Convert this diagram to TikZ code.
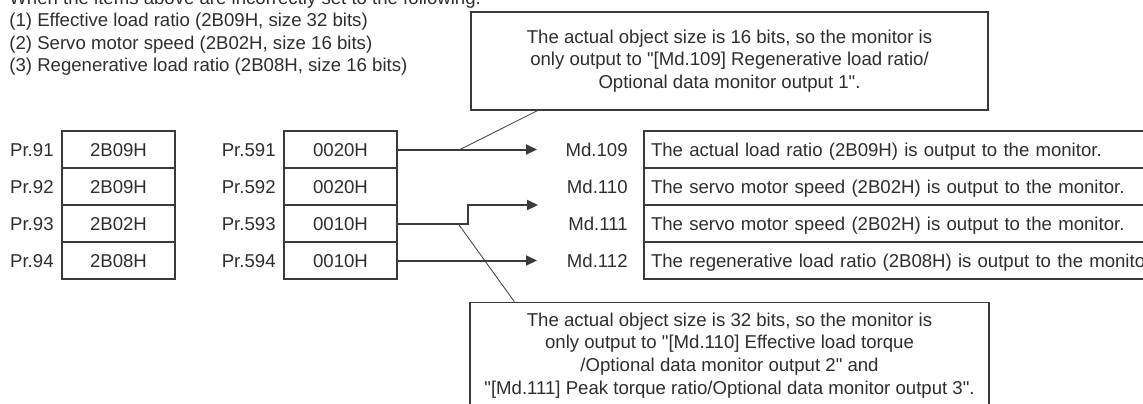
\documentclass[tikz,border=0pt]{standalone}
\usepackage{fontspec}
\setmainfont{Liberation Sans}[Ligatures=TeXOff]
\usepackage{tikz}
\usetikzlibrary{arrows.meta,positioning}
\definecolor{inkgray}{HTML}{2E2E2E}
\definecolor{linegray}{HTML}{3A3A3A}
\tikzset{
  txt/.style={inner sep=0pt, text=inkgray, font=\fontsize{9.3}{11.4}\selectfont, text height=6.7pt, text depth=0pt},
  cell/.style={txt, draw=linegray, line width=0.7pt, minimum width=56.5pt, minimum height=18.5pt},
  desc/.style={txt, draw=linegray, line width=0.7pt, minimum height=18.5pt, text width=293pt, inner xsep=3.5pt, align=left},
  plabel/.style={txt, anchor=east},
  callout/.style={draw=linegray, line width=0.7pt, fill=white, align=center, inner sep=0pt, text=inkgray, font=\fontsize{9.3}{11.4}\selectfont},
  arrow/.style={-{Triangle[length=5.5pt,width=5pt]}, draw=linegray, line width=1pt},
  pointer/.style={draw=linegray, line width=0.4pt}
}

\begin{document}
\begin{tikzpicture}[x=0.5pt,y=-0.5pt]
  \useasboundingbox (0,0) rectangle (1143,403);
  \clip (0,0) rectangle (1143,403);

  \node[txt, anchor=base west] (h0) at (9,4) {When the items above are incorrectly set to the following:};
  \node[txt, anchor=base west] (h1) at (9,26.6) {(1) Effective load ratio (2B09H, size 32 bits)};
  \node[txt, anchor=base west] (h2) at (9,49.1) {(2) Servo motor speed (2B02H, size 16 bits)};
  \node[txt, anchor=base west] (h3) at (9,71.6) {(3) Regenerative load ratio (2B08H, size 16 bits)};

  \node[callout, minimum width=258.5pt, minimum height=49pt] (c1) at (729.5,61)
    {The actual object size is 16 bits, so the monitor is\\only output to "[Md.109] Regenerative load ratio/\\Optional data monitor output 1".};

  \node[plabel] (pr91) at (54,149.5) {Pr.91};
  \node[plabel] (pr92) at (54,186.5) {Pr.92};
  \node[plabel] (pr93) at (54,223.5) {Pr.93};
  \node[plabel] (pr94) at (54,260.5) {Pr.94};

  \node[cell] (a1) at (118.5,149.5) {2B09H};
  \node[cell] (a2) at (118.5,186.5) {2B09H};
  \node[cell] (a3) at (118.5,223.5) {2B02H};
  \node[cell] (a4) at (118.5,260.5) {2B08H};

  \node[plabel] (pr591) at (276,149.5) {Pr.591};
  \node[plabel] (pr592) at (276,186.5) {Pr.592};
  \node[plabel] (pr593) at (276,223.5) {Pr.593};
  \node[plabel] (pr594) at (276,260.5) {Pr.594};

  \node[cell] (b1) at (340.5,149.5) {0020H};
  \node[cell] (b2) at (340.5,186.5) {0020H};
  \node[cell] (b3) at (340.5,223.5) {0010H};
  \node[cell] (b4) at (340.5,260.5) {0010H};

  \node[plabel] (md109) at (628,149.5) {Md.109};
  \node[plabel] (md110) at (628,186.5) {Md.110};
  \node[plabel] (md111) at (628,223.5) {Md.111};
  \node[plabel] (md112) at (628,260.5) {Md.112};

  \node[desc] (d1) at (944,149.5) {The actual load ratio (2B09H) is output to the monitor.};
  \node[desc] (d2) at (944,186.5) {The servo motor speed (2B02H) is output to the monitor.};
  \node[desc] (d3) at (944,223.5) {The servo motor speed (2B02H) is output to the monitor.};
  \node[desc] (d4) at (944,260.5) {The regenerative load ratio (2B08H) is output to the monitor.};

  \node[callout, minimum width=259.5pt, minimum height=53.2pt] (c2) at (729.5,355.5)
    {The actual object size is 32 bits, so the monitor is\\only output to "[Md.110] Effective load torque\\/Optional data monitor output 2" and\\"[Md.111] Peak torque ratio/Optional data monitor output 3".};

  \coordinate (t1) at (537,149.5);
  \coordinate (j3) at (468,205);
  \coordinate (t3) at (538,205);
  \coordinate (t4) at (537,260.5);
  \coordinate (p1) at (460,149.5);
  \coordinate (p3) at (458,223.5);

  \draw[arrow] (b1.east) -- (t1);
  \draw[arrow] (b3.east) -| (j3) -- (t3);
  \draw[arrow] (b4.east) -- (t4);

  \draw[pointer] ([xshift=33.5pt]c1.south west) -- (p1);
  \draw[pointer] (p3) -- ([xshift=22.5pt]c2.north west);
\end{tikzpicture}
\end{document}
